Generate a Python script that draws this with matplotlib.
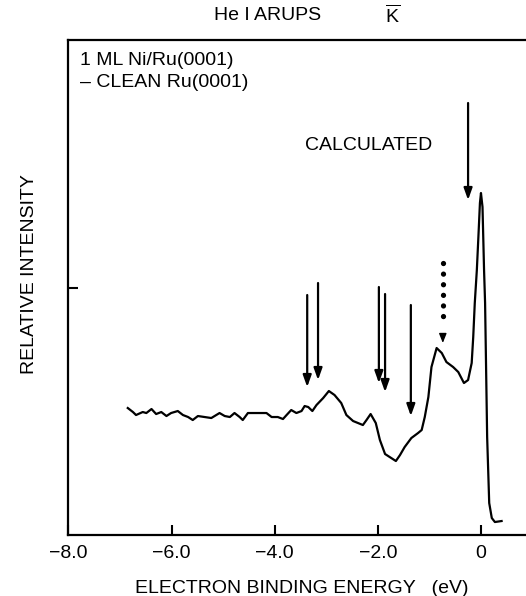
import matplotlib
matplotlib.use("Agg")
import matplotlib.pyplot as plt

plt.rcParams['font.family'] = ['Liberation Sans', 'DejaVu Sans']
plt.rcParams['mathtext.fontset'] = 'custom'
plt.rcParams['mathtext.rm'] = 'Liberation Sans'
plt.rcParams['axes.unicode_minus'] = True

# difference spectrum, 1 ML Ni/Ru(0001) - clean Ru(0001)
energy = [-6.85, -6.75, -6.69, -6.56, -6.49, -6.39, -6.30, -6.20, -6.10, -6.01,
          -5.88, -5.78, -5.68, -5.59, -5.49, -5.36, -5.23, -5.07, -4.97, -4.87,
          -4.78, -4.68, -4.62, -4.52, -4.42, -4.29, -4.16, -4.06, -3.94, -3.84,
          -3.77, -3.68, -3.58, -3.48, -3.42, -3.35, -3.27, -3.19, -3.06, -2.95,
          -2.84, -2.71, -2.61, -2.48, -2.29, -2.22, -2.14, -2.04, -1.96, -1.86,
          -1.77, -1.65, -1.57, -1.48, -1.35, -1.22, -1.15, -1.09, -1.02, -0.96,
          -0.86, -0.76, -0.67, -0.54, -0.44, -0.33, -0.25, -0.18, -0.15, -0.12,
          -0.08, -0.05, -0.02, 0.00, 0.03, 0.06, 0.08, 0.10, 0.12, 0.16,
          0.21, 0.27, 0.40]
intensity = [1.27, 1.23, 1.20, 1.23, 1.22, 1.26, 1.21, 1.23, 1.19, 1.22,
             1.24, 1.20, 1.18, 1.15, 1.19, 1.18, 1.17, 1.22, 1.19, 1.18,
             1.22, 1.18, 1.15, 1.22, 1.22, 1.22, 1.22, 1.18, 1.18, 1.16,
             1.20, 1.25, 1.22, 1.24, 1.29, 1.28, 1.24, 1.30, 1.37, 1.44,
             1.40, 1.32, 1.20, 1.14, 1.10, 1.15, 1.21, 1.12, 0.95, 0.81,
             0.78, 0.74, 0.80, 0.88, 0.97, 1.02, 1.05, 1.18, 1.38, 1.68,
             1.87, 1.82, 1.73, 1.68, 1.63, 1.52, 1.55, 1.72, 1.98, 2.32,
             2.65, 2.98, 3.32, 3.42, 3.28, 2.65, 2.32, 1.65, 0.98, 0.32,
             0.17, 0.13, 0.14]

# calculated band energies (solid arrows)
calc_energy = [-3.37, -3.16, -1.98, -1.86, -1.36, -0.25]
calc_top = [2.40, 2.52, 2.48, 2.41, 2.30, 4.32]
calc_tip = [1.48, 1.55, 1.52, 1.43, 1.19, 3.35]

# dotted arrow
dot_energy = -0.74
dot_top = 2.72
dot_tip = 1.92

xticks = [-8.0, -6.0, -4.0, -2.0, 0.0]
xticklabels = ['\u22128.0', '\u22126.0', '\u22124.0', '\u22122.0', '0']

fig = plt.figure(figsize=(5.26, 5.96), dpi=100)
ax = fig.add_axes([0.1302, 0.1023, 0.8774, 0.8314])

ax.plot(energy, intensity, color='black', lw=1.6)

for e, t, b in zip(calc_energy, calc_top, calc_tip):
    ax.annotate('', xy=(e, b), xytext=(e, t),
                arrowprops=dict(arrowstyle='-|>,head_length=0.7,head_width=0.25',
                                color='black', lw=1.6, shrinkA=0, shrinkB=0))

# dotted shaft + head
ax.plot([dot_energy, dot_energy], [dot_top, dot_tip + 0.17], color='black',
        lw=3.8, ls=(0, (0.01, 2.0)), dash_capstyle='round')
ax.annotate('', xy=(dot_energy, dot_tip), xytext=(dot_energy, dot_tip + 0.09),
            arrowprops=dict(arrowstyle='-|>,head_length=0.55,head_width=0.22',
                            color='black', lw=1.0, shrinkA=0, shrinkB=0))

ax.set_xlim(-8.0, 0.951)
ax.set_ylim(0, 4.955)
ax.set_xticks(xticks)
ax.set_xticklabels(xticklabels)
ax.set_yticks([2.47])
ax.set_yticklabels([])
ax.tick_params(direction='in', length=7, width=1.5, pad=7, labelsize=14)

for s in ax.spines.values():
    s.set_linewidth(1.6)

fs = 14
fig.text(0.5095, 0.9748, 'He I ARUPS', ha='center', va='center', fontsize=fs)
fig.text(0.747, 0.9748, r'$\overline{\mathrm{K}}$', ha='center', va='center', fontsize=fs)
fig.text(0.152, 0.8993, '1 ML Ni/Ru(0001)', ha='left', va='center', fontsize=fs)
fig.text(0.152, 0.8624, '\u2013 CLEAN Ru(0001)', ha='left', va='center', fontsize=fs)
fig.text(0.58, 0.7567, 'CALCULATED', ha='left', va='center', fontsize=fs)
fig.text(0.574, 0.0134, 'ELECTRON BINDING ENERGY   (eV)', ha='center', va='center', fontsize=fs)
fig.text(0.057, 0.54, 'RELATIVE INTENSITY', ha='center', va='center',
         rotation=90, fontsize=fs)

fig.savefig('out.png', dpi=100)
